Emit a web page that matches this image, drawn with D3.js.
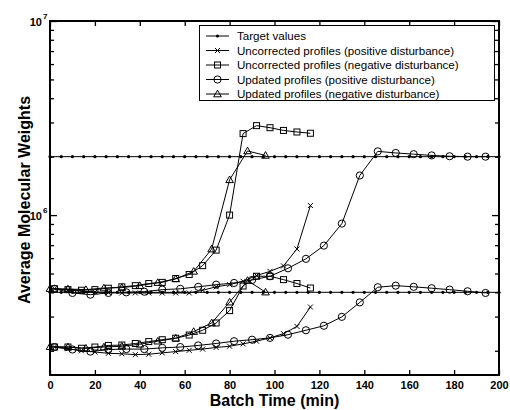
<!DOCTYPE html>
<html>
<head>
<meta charset="utf-8">
<script src="https://cdn.jsdelivr.net/npm/d3@7"></script>
<style>
  body { margin: 0; background: #fff; }
  text { font-family: "Liberation Sans", Arial, sans-serif; }
</style>
</head>
<body>
<svg id="chart" width="510" height="410"></svg>
<script>
// Batch times (min) for each set of profiles
const targetTimes = [0,5,10,15,20,25,30,35,40,45,50,55,60,65,70,75,80,85,90,95,100,
  105,110,115,120,125,130,135,140,145,150,155,160,165,170,175,180,185,190,195,200];
const uncorrTimes = [2,8,14,20,26,32,38,44,50,56,62,68,74,80,86,92,98,104,110,116];
const updPosTimes = [2,10,18,26,34,42,50,58,66,74,82,90,98,106,114,122,130,138,146,154,162,170,178,186,194];
const updNegTimes = [0,8,16,24,32,40,48,56,64,72,80,88,96];

// Target average molecular weights (weight- and number-average)
const targetMw = 2.0e6;
const targetMn = 4.0e5;

// Uncorrected profiles, positive disturbance
const uncorrPosMw = [4.17e5,4.11e5,4.06e5,4.01e5,3.99e5,3.97e5,3.97e5,3.97e5,3.97e5,3.97e5,3.97e5,
  4.10e5,4.27e5,4.38e5,4.56e5,4.88e5,5.13e5,5.47e5,6.69e5,1.12e6];
const uncorrPosMn = [2.09e5,2.05e5,2.00e5,1.97e5,1.94e5,1.93e5,1.91e5,1.92e5,1.95e5,1.98e5,2.01e5,
  2.04e5,2.08e5,2.11e5,2.17e5,2.24e5,2.33e5,2.45e5,2.67e5,3.36e5];

// Uncorrected profiles, negative disturbance
const uncorrNegMw = [4.17e5,4.13e5,4.10e5,4.13e5,4.20e5,4.27e5,4.33e5,4.44e5,4.50e5,4.71e5,4.94e5,
  5.49e5,6.60e5,1.00e6,2.63e6,2.89e6,2.82e6,2.73e6,2.68e6,2.64e6];
const uncorrNegMn = [2.09e5,2.09e5,2.06e5,2.09e5,2.13e5,2.14e5,2.18e5,2.23e5,2.28e5,2.32e5,2.41e5,
  2.55e5,2.78e5,3.22e5,4.31e5,4.84e5,4.84e5,4.65e5,4.44e5,4.21e5];

// Updated profiles, positive disturbance
const updPosMw = [4.17e5,3.97e5,3.89e5,3.97e5,4.00e5,4.03e5,4.13e5,4.17e5,4.27e5,4.38e5,4.47e5,4.63e5,
  4.84e5,5.32e5,5.95e5,6.96e5,9.04e5,1.60e6,2.13e6,2.09e6,2.06e6,2.03e6,2.01e6,2.00e6,2.00e6];
const updPosMn = [2.09e5,2.03e5,1.98e5,2.03e5,2.04e5,2.04e5,2.07e5,2.09e5,2.13e5,2.18e5,2.24e5,2.28e5,
  2.33e5,2.42e5,2.55e5,2.69e5,2.99e5,3.55e5,4.25e5,4.33e5,4.27e5,4.20e5,4.13e5,4.05e5,3.97e5];

// Updated profiles, negative disturbance
const updNegMw = [4.18e5,4.16e5,4.13e5,4.21e5,4.23e5,4.33e5,4.49e5,4.69e5,5.13e5,6.68e5,1.52e6,2.14e6,2.03e6];
const updNegMn = [2.10e5,2.09e5,2.06e5,2.09e5,2.11e5,2.16e5,2.24e5,2.32e5,2.51e5,2.78e5,3.56e5,4.60e5,4.01e5];

// Axis ticks
const xTicks = [0,20,40,60,80,100,120,140,160,180,200];
const yMajor = [1e6, 1e7];
const yMinor = [2e5,3e5,4e5,5e5,6e5,7e5,8e5,9e5,2e6,3e6,4e6,5e6,6e6,7e6,8e6,9e6];

const legendLabels = [
  "Target values",
  "Uncorrected profiles (positive disturbance)",
  "Uncorrected profiles (negative disturbance)",
  "Updated profiles (positive disturbance)",
  "Updated profiles (negative disturbance)"
];

const svg = d3.select("#chart");
const L = 50, R = 499, T = 21, B = 375;
const x = d3.scaleLinear().domain([0, 200]).range([L, R]);
const y = d3.scaleLog().domain([1.5e5, 1e7]).range([B, T]);

// Marker shapes
const markers = {
  dot: (g) => g.append("circle").attr("r", 1.6).attr("fill", "#000"),
  cross: (g) => g.append("path").attr("d", "M-2.5,-2.5L2.5,2.5M-2.5,2.5L2.5,-2.5")
                  .attr("stroke", "#000").attr("stroke-width", 1),
  square: (g) => g.append("rect").attr("x", -3).attr("y", -3).attr("width", 6).attr("height", 6)
                  .attr("fill", "none").attr("stroke", "#000").attr("stroke-width", 1),
  circle: (g) => g.append("circle").attr("r", 3.6).attr("fill", "none")
                  .attr("stroke", "#000").attr("stroke-width", 1),
  triangle: (g) => g.append("path").attr("d", "M0,-3.8L3.8,2.8L-3.8,2.8Z").attr("fill", "none")
                  .attr("stroke", "#000").attr("stroke-width", 1)
};

const line = d3.line().x(d => x(d.t)).y(d => y(d.v));
const plot = svg.append("g");

function drawSeries(times, values, shape) {
  const pts = times.map((t, i) => ({ t, v: values[i] }));
  plot.append("path").datum(pts).attr("d", line)
    .attr("fill", "none").attr("stroke", "#000").attr("stroke-width", 1);
  plot.append("g").selectAll("g").data(pts).join("g")
    .attr("transform", d => `translate(${x(d.t)},${y(d.v)})`)
    .each(function () { markers[shape](d3.select(this)); });
}

drawSeries(targetTimes, targetTimes.map(() => targetMw), "dot");
drawSeries(targetTimes, targetTimes.map(() => targetMn), "dot");
drawSeries(uncorrTimes, uncorrPosMw, "cross");
drawSeries(uncorrTimes, uncorrPosMn, "cross");
drawSeries(uncorrTimes, uncorrNegMw, "square");
drawSeries(uncorrTimes, uncorrNegMn, "square");
drawSeries(updPosTimes, updPosMw, "circle");
drawSeries(updPosTimes, updPosMn, "circle");
drawSeries(updNegTimes, updNegMw, "triangle");
drawSeries(updNegTimes, updNegMn, "triangle");

// Axes with inward ticks
function styleAxis(g) {
  g.select(".domain").remove();
  g.selectAll(".tick line").attr("stroke", "#000").attr("stroke-width", 1.3);
  g.selectAll("text").attr("font-family", "Liberation Sans, Arial, sans-serif")
    .attr("font-weight", "bold").attr("font-size", 11).attr("fill", "#000");
}

svg.append("g").attr("transform", `translate(0,${B})`)
  .call(d3.axisBottom(x).tickValues(xTicks).tickSize(-5).tickPadding(6).tickFormat(d3.format("d")))
  .call(styleAxis);
svg.append("g").attr("transform", `translate(0,${T})`)
  .call(d3.axisTop(x).tickValues(xTicks).tickSize(-5).tickFormat(""))
  .call(styleAxis);
svg.append("g").attr("transform", `translate(${L},0)`)
  .call(d3.axisLeft(y).tickValues(yMajor).tickSize(-7).tickFormat(""))
  .call(styleAxis);
svg.append("g").attr("transform", `translate(${L},0)`)
  .call(d3.axisLeft(y).tickValues(yMinor).tickSize(-4).tickFormat(""))
  .call(styleAxis);
svg.append("g").attr("transform", `translate(${R},0)`)
  .call(d3.axisRight(y).tickValues(yMajor).tickSize(-7).tickFormat(""))
  .call(styleAxis);
svg.append("g").attr("transform", `translate(${R},0)`)
  .call(d3.axisRight(y).tickValues(yMinor).tickSize(-4).tickFormat(""))
  .call(styleAxis);

// Power-of-ten labels on the y axis
yMajor.forEach(v => {
  svg.append("text")
    .attr("x", 42).attr("y", y(v) + 5)
    .attr("text-anchor", "end")
    .attr("font-weight", "bold").attr("font-size", 11).text("10");
  svg.append("text")
    .attr("x", 43).attr("y", y(v) - 2)
    .attr("font-weight", "bold").attr("font-size", 8)
    .text(Math.round(Math.log10(v)));
});

// Plot frame
svg.append("rect").attr("x", L).attr("y", T).attr("width", R - L).attr("height", B - T)
  .attr("fill", "none").attr("stroke", "#000").attr("stroke-width", 2);

// Axis titles
svg.append("text").attr("x", (L + R) / 2).attr("y", 406).attr("text-anchor", "middle")
  .attr("font-weight", "bold").attr("font-size", 16).text("Batch Time (min)");
svg.append("text").attr("transform", "translate(30,200) rotate(-90)").attr("text-anchor", "middle")
  .attr("font-weight", "bold").attr("font-size", 16).text("Average Molecular Weights");

// Legend
const legend = svg.append("g");
legend.append("rect").attr("x", 199.5).attr("y", 25.5).attr("width", 295).attr("height", 75)
  .attr("fill", "#fff").attr("stroke", "#000").attr("stroke-width", 1);
const shapes = ["dot", "cross", "square", "circle", "triangle"];
legendLabels.forEach((label, i) => {
  const cy = 36 + i * 14.5;
  legend.append("line").attr("x1", 206).attr("x2", 229).attr("y1", cy).attr("y2", cy)
    .attr("stroke", "#000").attr("stroke-width", 1);
  markers[shapes[i]](legend.append("g").attr("transform", `translate(217.5,${cy})`));
  legend.append("text").attr("x", 237).attr("y", cy).attr("dy", "0.36em")
    .attr("font-size", 11.6).text(label);
});
</script>
</body>
</html>
